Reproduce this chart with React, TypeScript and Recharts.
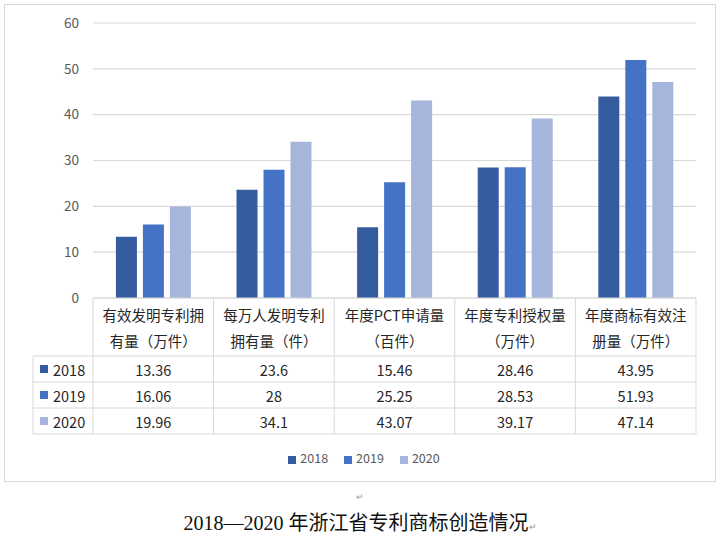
import React from 'react';
import { BarChart, Bar, XAxis, YAxis, CartesianGrid, Legend } from 'recharts';

// category labels (two lines each, as wrapped in the table header)
const labelLine1 = ['有效发明专利拥', '每万人发明专利', '年度PCT申请量', '年度专利授权量', '年度商标有效注'];
const labelLine2 = ['有量（万件）', '拥有量（件）', '（百件）', '（万件）', '册量（万件）'];

const years = ['2018', '2019', '2020'];
const values2018 = [13.36, 23.6, 15.46, 28.46, 43.95];
const values2019 = [16.06, 28, 25.25, 28.53, 51.93];
const values2020 = [19.96, 34.1, 43.07, 39.17, 47.14];
const yTicks = [0, 10, 20, 30, 40, 50, 60];

const colors = ['#355c9f', '#4472c4', '#a6b5db'];
const series = [values2018, values2019, values2020];

const data = labelLine1.map((l1, i) => ({
    name: l1 + labelLine2[i],
    y2018: values2018[i],
    y2019: values2019[i],
    y2020: values2020[i],
}));

// layout
const W = 720;
const H = 546;
const CHART_H = 490;
const PLOT_LEFT = 93;
const PLOT_RIGHT = 696;
const PLOT_TOP = 23;
const PLOT_BOTTOM = 298;
const BAND = (PLOT_RIGHT - PLOT_LEFT) / labelLine1.length;
const HEADER_H = 58;
const ROW_H = 26;
const ROW_LABEL_LEFT = 33;
const GRID = '#d9d9d9';
const TEXT = '#262626';

function TableTick(props: any) {
    const { x, y, payload } = props;
    const i = payload.index;
    const left = x - BAND / 2;
    const right = x + BAND / 2;
    const bottom = y + HEADER_H + ROW_H * years.length;
    const rowLines = years.map((_, r) => y + HEADER_H + ROW_H * r).concat([bottom]);

    return (
        <g>
            <line x1={right} y1={y} x2={right} y2={bottom} stroke={GRID} />
            {rowLines.map((ly, k) => (
                <line key={k} x1={left} y1={ly} x2={right} y2={ly} stroke={GRID} />
            ))}
            <text x={x} y={y + 16} textAnchor="middle" dominantBaseline="central" fontSize={14.5} fill={TEXT}>
                {labelLine1[i]}
            </text>
            <text x={x} y={y + 42} textAnchor="middle" dominantBaseline="central" fontSize={14.5} fill={TEXT}>
                {labelLine2[i]}
            </text>
            {series.map((vals, r) => (
                <text
                    key={r}
                    x={x}
                    y={y + HEADER_H + ROW_H * r + ROW_H / 2}
                    textAnchor="middle"
                    dominantBaseline="central"
                    fontSize={14.5}
                    fill={TEXT}
                >
                    {vals[i]}
                </text>
            ))}
            {i === 0 && (
                <g>
                    <line x1={left} y1={y} x2={left} y2={bottom} stroke={GRID} />
                    <line x1={ROW_LABEL_LEFT} y1={y + HEADER_H} x2={ROW_LABEL_LEFT} y2={bottom} stroke={GRID} />
                    {rowLines.map((ly, k) => (
                        <line key={k} x1={ROW_LABEL_LEFT} y1={ly} x2={left} y2={ly} stroke={GRID} />
                    ))}
                    {years.map((yr, r) => {
                        const cy = y + HEADER_H + ROW_H * r + ROW_H / 2;
                        return (
                            <g key={yr}>
                                <rect x={40} y={cy - 4} width={8} height={8} fill={colors[r]} />
                                <text x={53} y={cy} dominantBaseline="central" fontSize={14.5} fill={TEXT}>
                                    {yr}
                                </text>
                            </g>
                        );
                    })}
                </g>
            )}
        </g>
    );
}

export default function App() {
    return (
        <div
            style={{
                position: 'absolute',
                left: 0,
                top: 0,
                width: W,
                height: H,
                background: '#fff',
                fontFamily: '"Noto Sans CJK SC", "Noto Sans", sans-serif',
            }}
        >
            <div
                style={{
                    position: 'absolute',
                    left: 4,
                    top: 4,
                    width: 710,
                    height: 476,
                    border: `1.5px solid ${GRID}`,
                }}
            />
            <div style={{ position: 'absolute', left: 0, top: 0 }}>
                <BarChart
                    width={W}
                    height={CHART_H}
                    data={data}
                    margin={{ top: PLOT_TOP, right: W - PLOT_RIGHT, bottom: 0, left: 0 }}
                    barCategoryGap="19%"
                    barGap={6}
                >
                    <CartesianGrid vertical={false} stroke={GRID} strokeWidth={1.2} />
                    <XAxis
                        dataKey="name"
                        axisLine={{ stroke: GRID }}
                        tickLine={false}
                        tickSize={0}
                        tickMargin={0}
                        interval={0}
                        height={CHART_H - PLOT_BOTTOM}
                        tick={<TableTick />}
                    />
                    <YAxis
                        width={PLOT_LEFT}
                        domain={[0, 60]}
                        ticks={yTicks}
                        axisLine={false}
                        tickLine={false}
                        tickSize={0}
                        tickMargin={14}
                        tick={{ fill: '#595959', fontSize: 13.5 }}
                    />
                    <Legend
                        verticalAlign="middle"
                        align="center"
                        iconType="square"
                        iconSize={8}
                        wrapperStyle={{ top: 448, left: 12, width: W, fontSize: 12.5 }}
                        formatter={(v: string) => <span style={{ color: '#595959', marginRight: 6 }}>{v}</span>}
                    />
                    <Bar dataKey="y2018" name={years[0]} fill={colors[0]} isAnimationActive={false} />
                    <Bar dataKey="y2019" name={years[1]} fill={colors[1]} isAnimationActive={false} />
                    <Bar dataKey="y2020" name={years[2]} fill={colors[2]} isAnimationActive={false} />
                </BarChart>
            </div>
            <div style={{ position: 'absolute', left: 0, top: 490, width: W, textAlign: 'center', fontSize: 9, color: '#999' }}>
                ↵
            </div>
            <div
                style={{
                    position: 'absolute',
                    left: 0,
                    top: 507,
                    width: W,
                    textAlign: 'center',
                    fontSize: 20,
                    color: '#111',
                    fontFamily: '"Liberation Serif", "Noto Sans CJK SC", serif',
                }}
            >
                2018—2020 年浙江省专利商标创造情况<span style={{ fontSize: 9, color: '#999' }}>↵</span>
            </div>
        </div>
    );
}
